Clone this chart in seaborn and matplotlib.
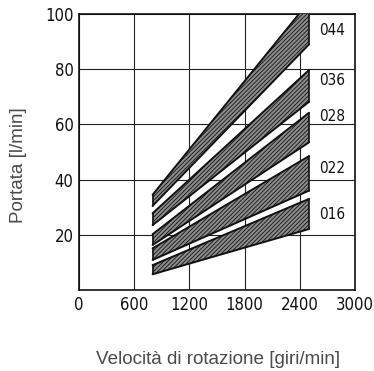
import matplotlib
matplotlib.use("Agg")
import matplotlib.pyplot as plt
import seaborn as sns
import pandas as pd

# Data
rpm = [800, 2500]
series = ["044", "036", "028", "022", "016"]
lower = {
    "044": [30.5, 89.0],
    "036": [23.5, 68.2],
    "028": [16.3, 53.5],
    "022": [10.9, 36.0],
    "016": [5.7, 22.1],
}
upper = {
    "044": [34.5, 104.5],
    "036": [27.8, 79.7],
    "028": [20.2, 64.2],
    "022": [15.1, 48.5],
    "016": [9.0, 33.0],
}
label_y = {"044": 94, "036": 76, "028": 62.7, "022": 44.2, "016": 27.2}
x_ticks = [0, 600, 1200, 1800, 2400, 3000]
y_ticks = [20, 40, 60, 80, 100]

sns.set_theme(style="white")
plt.rcParams["font.family"] = ["DejaVu Sans"]
plt.rcParams["hatch.linewidth"] = 0.6

tick_font = dict(family="DejaVu Sans", stretch="condensed")

fig = plt.figure(figsize=(3.74, 3.71), dpi=100)
ax = fig.add_axes([79/374, 1-290/371, (355-79)/374, (290-14)/371])

rows = []
for s in series:
    for i, x in enumerate(rpm):
        rows.append({"rpm": x, "val": lower[s][i], "serie": s, "edge": "lo"})
        rows.append({"rpm": x, "val": upper[s][i], "serie": s, "edge": "hi"})
df = pd.DataFrame(rows)

for s in series:
    ax.fill_between(rpm, lower[s], upper[s], facecolor="#8c8c8c",
                    edgecolor="#111111", hatch="////////", linewidth=0, zorder=3)
    sub = df[df.serie == s]
    sns.lineplot(data=sub, x="rpm", y="val", units="edge", estimator=None,
                 color="#111111", lw=1.4, ax=ax, zorder=4, legend=False)
    ax.plot([rpm[0], rpm[0]], [lower[s][0], upper[s][0]], color="#111111", lw=1.2, zorder=4)
    ax.plot([rpm[1], rpm[1]], [lower[s][1], upper[s][1]], color="#111111", lw=1.2, zorder=4)
    ax.text(2610, label_y[s], s, fontsize=11, color="#111111", va="center",
            ha="left", **tick_font)

ax.set_xlim(0, 3000)
ax.set_ylim(0, 100)
ax.set_xticks(x_ticks)
ax.set_yticks(y_ticks)
ax.set_xticklabels([str(t) for t in x_ticks], fontsize=12, color="#111111", **tick_font)
ax.set_yticklabels([str(t) for t in y_ticks], fontsize=12, color="#111111", **tick_font)
ax.tick_params(axis="both", length=0, pad=4)
ax.grid(True, color="#222222", lw=0.8)
ax.set_axisbelow(True)
for sp in ax.spines.values():
    sp.set_visible(True)
    sp.set_color("#111111")
    sp.set_linewidth(1.2)
ax.set_xlabel("")
ax.set_ylabel("")

fig.text(218/374, 1-359/371, "Velocità di rotazione [giri/min]", fontsize=13.6,
         color="#4a4a4a", family=["Liberation Sans", "DejaVu Sans"],
         ha="center", va="center")
fig.text(18.5/374, 1-165/371, "Portata [l/min]", fontsize=13.6, rotation=90,
         color="#4a4a4a", family=["Liberation Sans", "DejaVu Sans"],
         ha="center", va="center")

fig.savefig("out.png", dpi=100)
